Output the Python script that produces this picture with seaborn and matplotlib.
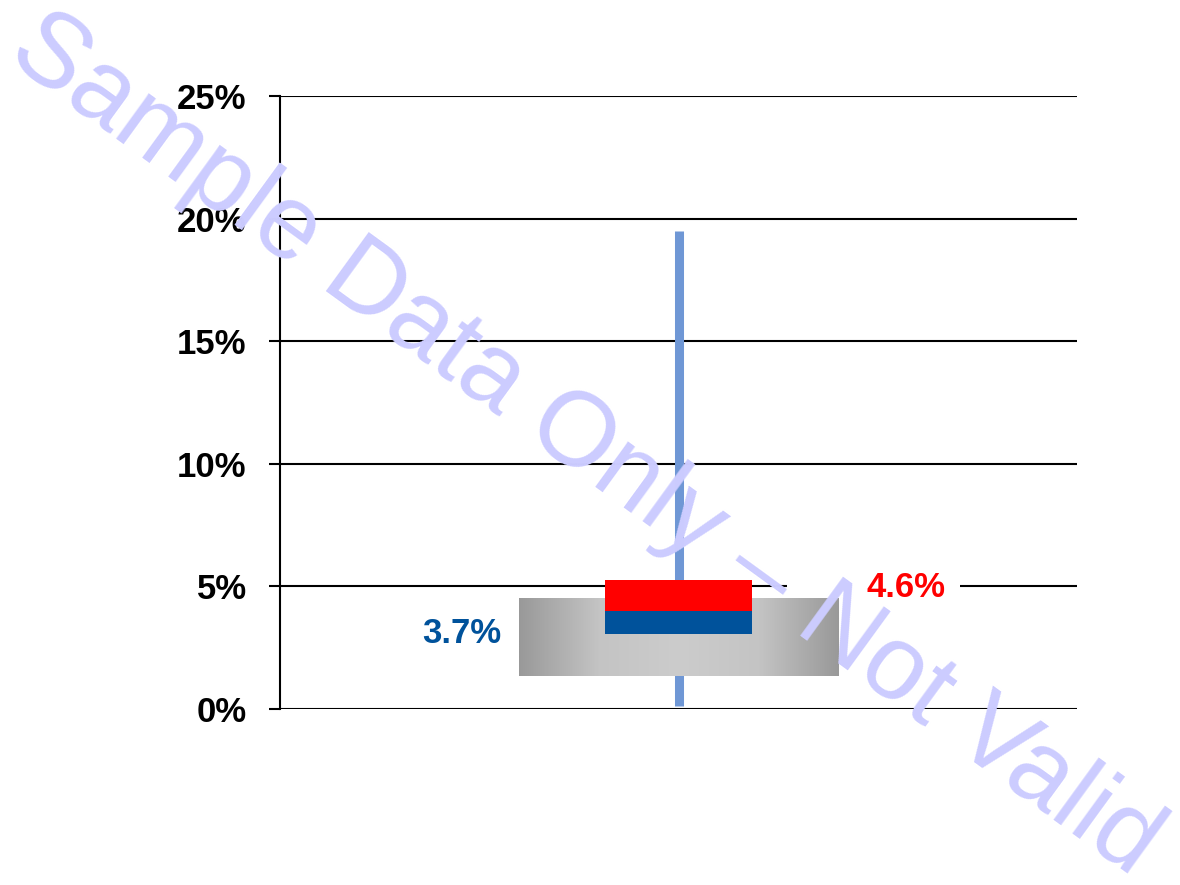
import numpy as np
import matplotlib
matplotlib.use("Agg")
import matplotlib.pyplot as plt
from matplotlib.colors import LinearSegmentedColormap
from matplotlib.patches import Rectangle
from matplotlib.ticker import FuncFormatter
import seaborn as sns

# valores (em %)
categoria = ["Taxa"]
faixa_min = [0.12]
faixa_max = [19.5]
caixa_inf = [1.35]
caixa_sup = [4.53]
quartil_inf = [3.06]
mediana = [4.0]
quartil_sup = [5.26]
rotulo_azul = "3.7%"
rotulo_vermelho = "4.6%"
y_ticks = [0, 5, 10, 15, 20, 25]

sns.set_theme(style="white")
plt.rcParams["font.family"] = ["Liberation Sans", "DejaVu Sans"]

fig = plt.figure(figsize=(11.8, 8.85), dpi=100)
ax = fig.add_axes([0.2373, 0.1989, 0.6754, 0.6926])

x = np.arange(len(categoria))
ax.set_xlim(-1, 1)
ax.set_ylim(0, 25)

# whisker (linha azul clara)
for i in x:
    sns.lineplot(x=[i, i], y=[faixa_min[i], faixa_max[i]], estimator=None, sort=False,
                 color="#6f97d5", linewidth=6.5, ax=ax)
for ln in ax.lines:
    ln.set_solid_capstyle("butt")
    ln.set_zorder(3)

# caixa cinza com degradê horizontal
cmap_cinza = LinearSegmentedColormap.from_list("cinza", ["#999999", "#c4c4c4", "#cccccc", "#c4c4c4", "#999999"])
meia_larg = 0.4015
for i in x:
    grad = np.linspace(0, 1, 256).reshape(1, -1)
    ax.imshow(grad, cmap=cmap_cinza, aspect="auto", zorder=4,
              extent=[i - meia_larg, i + meia_larg, caixa_inf[i], caixa_sup[i]])

# caixa azul / vermelha
larg = 0.3714
ax.bar(x, np.array(mediana) - np.array(quartil_inf), bottom=quartil_inf, width=larg,
       color="#00529b", edgecolor="none", linewidth=0, zorder=5)
ax.bar(x, np.array(quartil_sup) - np.array(mediana), bottom=mediana, width=larg,
       color="#ff0000", edgecolor="none", linewidth=0, zorder=5)

# rótulos
ax.text(-0.545, quartil_inf[0], rotulo_azul, color="#00529b", fontsize=25, fontweight="bold",
        ha="center", va="center", zorder=6)
ax.add_patch(Rectangle((0.636, 4.75 / 25), 0.217, 0.5 / 25, transform=ax.transAxes,
                       facecolor="white", edgecolor="none", zorder=2))
ax.text(0.572, 4.97, rotulo_vermelho, color="#ff0000", fontsize=25, fontweight="bold",
        ha="center", va="center", zorder=6)

# eixos e grade
ax.set_yticks(y_ticks)
ax.yaxis.set_major_formatter(FuncFormatter(lambda v, p: f"{v:.0f}%"))
ax.set_xticks([])
ax.grid(axis="y", color="black", linewidth=1.5)
ax.set_axisbelow(True)
for s in ["top", "right", "bottom"]:
    ax.spines[s].set_visible(False)
ax.spines["left"].set_color("black")
ax.spines["left"].set_linewidth(1.5)
ax.tick_params(axis="y", which="major", direction="out", length=8, width=1.5, color="black",
               pad=16, labelsize=25, left=True)
for lbl in ax.get_yticklabels():
    lbl.set_fontweight("bold")
    lbl.set_color("black")

# marca d'água
fig.text(0.496, 0.497, "Sample Data Only \u2013 Not Valid", fontsize=76, color="#ccccff",
         rotation=-36, ha="center", va="center", rotation_mode="anchor", zorder=10)

fig.savefig("out.png", dpi=100)
